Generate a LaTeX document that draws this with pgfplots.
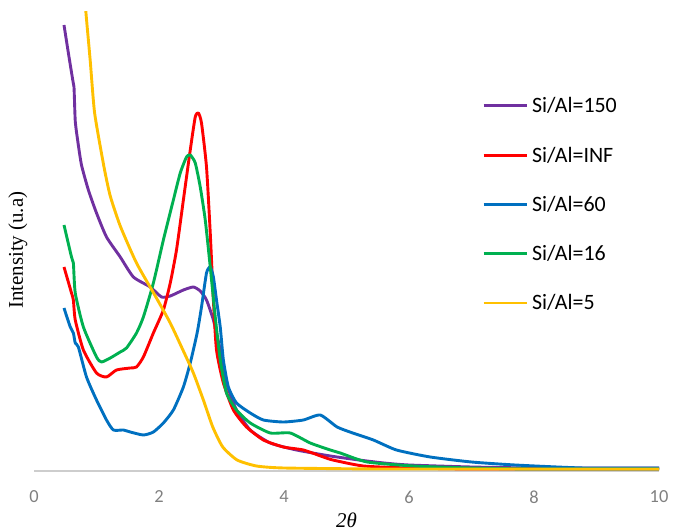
\documentclass[border=0pt]{standalone}
\usepackage{fontspec}
\setmainfont{Carlito}
\newfontfamily\seriffont{Liberation Serif}
\usepackage{pgfplots}
\pgfplotsset{compat=1.18}
\definecolor{cpurple}{RGB}{112,48,160}
\definecolor{cred}{RGB}{255,0,0}
\definecolor{cblue}{RGB}{0,112,192}
\definecolor{cgreen}{RGB}{0,176,80}
\definecolor{cyellow}{RGB}{255,192,0}
\definecolor{tickgray}{RGB}{128,128,128}
\definecolor{axisgray}{RGB}{205,205,205}
\begin{document}
\begin{tikzpicture}
\begin{axis}[
  scale only axis, width=625bp, height=459bp,
  xmin=0, xmax=10, ymin=0, ymax=459,
  axis x line*=bottom, axis y line*=left,
  x axis line style={draw=axisgray, line width=1.6bp},
  y axis line style={draw=none},
  xtick={0,2,4,6,8,10}, ytick=\empty, major tick length=0pt,
  /pgf/number format/assume math mode=true,
  xticklabel style={font=\fontsize{18.5}{18.5}\selectfont, text=tickgray, anchor=center, yshift=-26bp},
  xlabel={\seriffont\itshape 2θ},
  ylabel={\seriffont Intensity (u.a)},
  every axis x label/.style={at={(axis description cs:0.5,-0.107)}, anchor=center, font=\fontsize{21}{21}\selectfont},
  every axis y label/.style={at={(axis description cs:-0.0256,0.481)}, anchor=center, rotate=90, font=\fontsize{21}{21}\selectfont},
  legend style={draw=none, fill=none, at={(axis description cs:0.7168,0.8135)}, anchor=north west,
    font=\fontsize{22}{22}\selectfont, row sep=29.3bp, inner sep=0pt,
    nodes={inner sep=0pt, text height=15bp, text depth=5bp},
    /tikz/every odd column/.append style={column sep=4bp}},
  legend cell align=left,
  legend image code/.code={\draw[#1] (-2bp,2bp) -- (41bp,2bp);},
  every axis plot/.append style={line width=2.9bp, line join=round, smooth, tension=0.35},
]
\addplot[cpurple] coordinates {
(0.48,446) (0.55,418) (0.62,391) (0.64,384) (0.66,350) (0.70,330) (0.76,306) (0.87,281) (1.0,258) (1.16,234)
(1.38,214) (1.59,194) (1.86,184) (2.04,174) (2.18,175) (2.39,181) (2.55,184) (2.66,180)
(2.76,171) (2.87,151) (2.98,121) (3.08,88) (3.24,61) (3.46,41) (3.78,28) (4.2,21) (4.74,15)
(5.2,11) (5.6,8) (6.0,6) (7.0,4) (8.0,3) (9.0,3) (10,3)};
\addlegendentry{Si/Al=150}
\addplot[cred] coordinates {
(0.48,204) (0.60,178) (0.63,171) (0.66,151) (0.79,121) (1.0,98) (1.16,94) (1.32,101)
(1.54,103) (1.64,104) (1.75,114) (1.91,138) (2.07,161) (2.18,188) (2.28,221) (2.39,271)
(2.5,321) (2.58,354) (2.63,358) (2.68,348) (2.76,304) (2.82,238) (2.87,171) (2.92,121)
(3.03,88) (3.19,61) (3.4,44) (3.67,31) (3.99,24) (4.31,21) (4.63,14) (4.78,11) (5.27,5)
(6.0,3) (7.0,2) (8.0,2) (10,2)};
\addlegendentry{Si/Al=INF}
\addplot[cblue] coordinates {
(0.48,163) (0.58,144) (0.63,138) (0.66,128) (0.71,124) (0.84,94) (1.0,71) (1.16,51)
(1.27,41) (1.43,41) (1.54,39) (1.75,36) (1.91,39) (2.07,48) (2.23,61) (2.39,84) (2.5,108)
(2.61,138) (2.68,164) (2.76,198) (2.82,204) (2.87,194) (2.92,171) (2.98,144) (3.03,111)
(3.11,84) (3.24,68) (3.46,58) (3.67,51) (3.99,49) (4.31,51) (4.58,56) (4.85,44) (5.1,38)
(5.43,31) (5.8,21) (6.34,14) (7.0,9) (7.7,6) (8.8,3) (10,3)};
\addlegendentry{Si/Al=60}
\addplot[cgreen] coordinates {
(0.48,246) (0.60,214) (0.63,208) (0.66,178) (0.79,144) (1.0,114) (1.08,109) (1.22,113)
(1.38,119) (1.48,123) (1.64,138) (1.75,154) (1.91,188) (2.07,231) (2.23,271) (2.34,298)
(2.44,314) (2.5,316) (2.58,308) (2.66,284) (2.74,251) (2.82,204) (2.9,154) (2.98,111)
(3.08,78) (3.24,61) (3.46,48) (3.78,38) (4.1,38) (4.42,28) (4.74,21) (4.9,18) (5.33,9)
(6.07,5) (7.0,3) (8.0,2) (10,2)};
\addlegendentry{Si/Al=16}
\addplot[cyellow] coordinates {
(0.78,500) (0.83,459) (0.9,410) (0.97,358) (1.12,304) (1.22,275) (1.38,245) (1.64,208) (1.95,174)
(2.18,148) (2.39,120) (2.55,98) (2.71,71) (2.86,44) (3.02,24) (3.25,11) (3.56,5)
(4.0,3) (5.5,2) (7.0,2) (10,2)};
\addlegendentry{Si/Al=5}
\end{axis}
\pgfresetboundingbox
\path (-34bp,-60bp) rectangle (639bp,471bp);
\end{tikzpicture}
\end{document}
